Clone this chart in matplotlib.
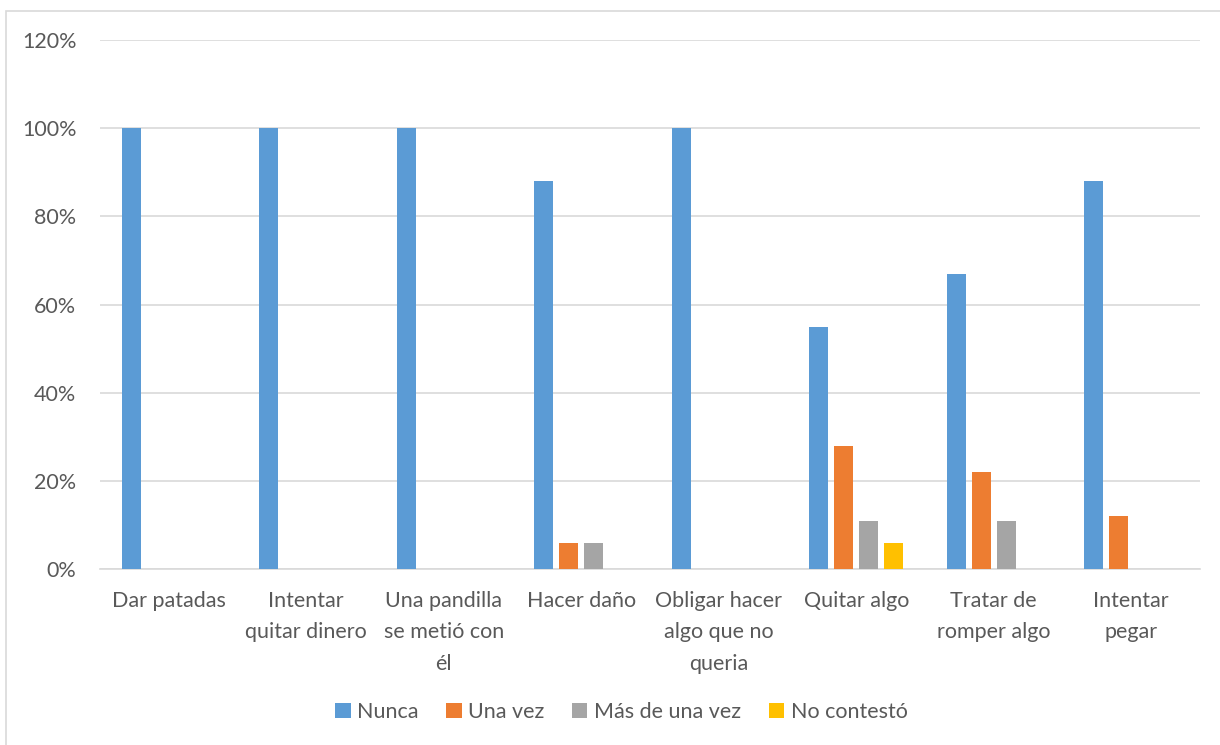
import matplotlib
matplotlib.use('Agg')
import matplotlib.pyplot as plt
import numpy as np
from matplotlib.patches import Rectangle
from matplotlib.ticker import FuncFormatter

plt.rcParams["font.family"] = ["Lato", "DejaVu Sans"]

categories = ['Dar patadas', 'Intentar\nquitar dinero', 'Una pandilla\nse metió con\nél', 'Hacer daño',
              'Obligar hacer\nalgo que no\nqueria', 'Quitar algo', 'Tratar de\nromper algo', 'Intentar\npegar']
nunca = [100, 100, 100, 88, 100, 55, 67, 88]
una_vez = [0, 0, 0, 6, 0, 28, 22, 12]
mas_de_una = [0, 0, 0, 6, 0, 11, 11, 0]
no_contesto = [0, 0, 0, 0, 0, 6, 0, 0]

series = [nunca, una_vez, mas_de_una, no_contesto]
labels = ['Nunca', 'Una vez', 'Más de una vez', 'No contestó']
colors = ['#5b9bd5', '#ed7d31', '#a5a5a5', '#ffc000']

fig = plt.figure(figsize=(12.2, 7.45), dpi=100)
ax = fig.add_axes([0.082, 0.2362, 0.9016, 0.7101])

# chart border
fig.patches.append(Rectangle((6 / 1220, -0.01), 1.02, 1 - 11 / 745 + 0.01, transform=fig.transFigure,
                             fill=False, edgecolor='#d9d9d9', linewidth=1.2))

x = np.arange(len(categories))
step = 0.182
width = 0.138
for i, (vals, lab, c) in enumerate(zip(series, labels, colors)):
    ax.bar(x + (i - 1.5) * step, vals, width, color=c, label=lab, zorder=3)

ax.set_xlim(-0.5, len(categories) - 0.5)
ax.set_ylim(0, 120)
ax.set_yticks(np.arange(0, 121, 20))
ax.yaxis.set_major_formatter(FuncFormatter(lambda v, p: f'{v:.0f}%'))
ax.grid(axis='y', color='#d9d9d9', linewidth=1.2, zorder=0)
ax.set_xticks(x)
ax.set_xticklabels(categories, linespacing=1.7, va='top')
for s in ['top', 'right', 'left']:
    ax.spines[s].set_visible(False)
ax.spines['bottom'].set_color('#d9d9d9')
ax.spines['bottom'].set_linewidth(1.2)
ax.tick_params(axis='both', length=0, labelsize=15.5, colors='#595959')
ax.tick_params(axis='x', pad=16)
ax.tick_params(axis='y', pad=17)

ax.legend(loc='center', bbox_to_anchor=(0.474, -0.27), ncol=4, frameon=False, fontsize=15.5,
          handlelength=0.7, handleheight=0.7, handletextpad=0.3, columnspacing=1.3,
          labelcolor='#595959')

fig.savefig('out.png', dpi=100)
